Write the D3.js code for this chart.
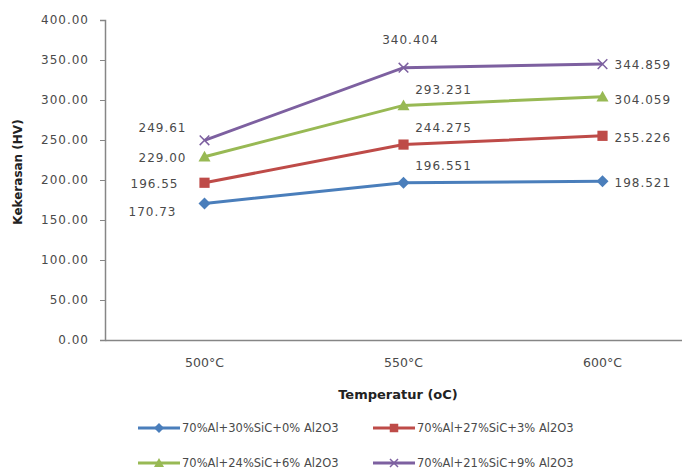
<!DOCTYPE html>
<html><head><meta charset="utf-8">
<script src="https://cdn.jsdelivr.net/npm/d3@7"></script>
<style>
html,body{margin:0;padding:0;background:#fff;}
svg{display:block;}
text{font-family:"DejaVu Sans",sans-serif;}
</style></head>
<body>
<svg id="chart" width="682" height="472"></svg>
<script>
const categories = ["500°C", "550°C", "600°C"];
const seriesNames = ["70%Al+30%SiC+0% Al2O3", "70%Al+27%SiC+3% Al2O3", "70%Al+24%SiC+6% Al2O3", "70%Al+21%SiC+9% Al2O3"];
const s1 = [170.73, 196.551, 198.521];
const s2 = [196.55, 244.275, 255.226];
const s3 = [229.00, 293.231, 304.059];
const s4 = [249.61, 340.404, 344.859];
const labels1 = ["170.73", "196.551", "198.521"];
const labels2 = ["196.55", "244.275", "255.226"];
const labels3 = ["229.00", "293.231", "304.059"];
const labels4 = ["249.61", "340.404", "344.859"];
const yTicks = [0, 50, 100, 150, 200, 250, 300, 350, 400];

const colors = ["#4a7ebb", "#be4b48", "#98b954", "#7d60a0"];
const shapes = ["diamond", "square", "triangle", "x"];
const values = [s1, s2, s3, s4];
const labelTexts = [labels1, labels2, labels3, labels4];
// label offsets (dx, dy, anchor) per series per point
const labelOffsets = [
  [[-52, 13, "middle"], [40, -13, "middle"], [12, 6, "start"]],
  [[-50, 5, "middle"], [40, -13, "middle"], [12, 6, "start"]],
  [[-42, 5, "middle"], [40, -11, "middle"], [12, 7, "start"]],
  [[-42, -8, "middle"], [7, -24, "middle"], [12, 5, "start"]]
];

const svg = d3.select("#chart");
const pLeft = 105, pRight = 702, pTop = 20, pBottom = 340;
const x = d3.scaleBand().domain(categories).range([pLeft, pRight]);
const y = d3.scaleLinear().domain([0, 400]).range([pBottom, pTop]);
const cx = c => x(c) + x.bandwidth() / 2;

// Y axis
const yAxis = svg.append("g").attr("transform", `translate(${pLeft},0)`)
  .call(d3.axisLeft(y).tickValues(yTicks).tickFormat(d3.format(".2f")).tickSize(5).tickPadding(11));
yAxis.select(".domain").attr("stroke", "#868686").attr("stroke-width", 1.5);
yAxis.selectAll(".tick line").attr("stroke", "#868686");
yAxis.selectAll(".tick text").attr("font-size", 12).attr("fill", "#4a4a4a")
  .attr("letter-spacing", 1).attr("font-family", "DejaVu Sans, sans-serif");

// X axis
const xAxis = svg.append("g").attr("transform", `translate(0,${pBottom})`)
  .call(d3.axisBottom(x).tickSize(0).tickPadding(18));
xAxis.select(".domain").attr("stroke", "#868686").attr("stroke-width", 1.5);
xAxis.selectAll(".tick text").attr("font-size", 12.5).attr("fill", "#4a4a4a")
  .attr("font-family", "DejaVu Sans, sans-serif");

// Axis titles
svg.append("text").attr("x", 398).attr("y", 399).attr("text-anchor", "middle")
  .attr("font-weight", "bold").attr("font-size", 13).attr("fill", "#222")
  .text("Temperatur (oC)");
svg.append("text").attr("transform", "translate(22,172) rotate(-90)").attr("text-anchor", "middle")
  .attr("font-weight", "bold").attr("font-size", 12).attr("fill", "#222")
  .text("Kekerasan (HV)");

function drawMarker(g, shape, color, size) {
  const s = size;
  if (shape === "diamond") {
    g.append("path").attr("d", `M0,${-s}L${s},0L0,${s}L${-s},0Z`).attr("fill", color);
  } else if (shape === "square") {
    g.append("rect").attr("x", -s * 0.85).attr("y", -s * 0.85).attr("width", s * 1.7).attr("height", s * 1.7).attr("fill", color);
  } else if (shape === "triangle") {
    g.append("path").attr("d", `M0,${-s}L${s},${s * 0.8}L${-s},${s * 0.8}Z`).attr("fill", color);
  } else {
    g.append("path").attr("d", `M${-s * 0.8},${-s * 0.8}L${s * 0.8},${s * 0.8}M${-s * 0.8},${s * 0.8}L${s * 0.8},${-s * 0.8}`)
      .attr("stroke", color).attr("stroke-width", 1.5).attr("fill", "none");
  }
}

const line = d3.line().x((d, i) => cx(categories[i])).y(d => y(d));

values.forEach((vals, si) => {
  const g = svg.append("g");
  g.append("path").datum(vals).attr("d", line).attr("fill", "none")
    .attr("stroke", colors[si]).attr("stroke-width", 3);
  vals.forEach((v, i) => {
    const m = g.append("g").attr("transform", `translate(${cx(categories[i])},${y(v)})`);
    drawMarker(m, shapes[si], colors[si], 6);
    const off = labelOffsets[si][i];
    g.append("text").attr("x", cx(categories[i]) + off[0]).attr("y", y(v) + off[1])
      .attr("text-anchor", off[2]).attr("font-size", 12).attr("letter-spacing", 1)
      .attr("fill", "#4a4a4a").text(labelTexts[si][i]);
  });
});

// Legend
const legendPos = [[138, 428], [373, 428], [138, 463], [373, 463]];
seriesNames.forEach((name, si) => {
  const [lx, ly] = legendPos[si];
  const g = svg.append("g");
  g.append("line").attr("x1", lx).attr("x2", lx + 42).attr("y1", ly).attr("y2", ly)
    .attr("stroke", colors[si]).attr("stroke-width", 3);
  const m = g.append("g").attr("transform", `translate(${lx + 21},${ly})`);
  drawMarker(m, shapes[si], colors[si], 5);
  g.append("text").attr("x", lx + 44).attr("y", ly + 4).attr("font-size", 11.5)
    .attr("fill", "#4a4a4a").text(name);
});
</script>
</body></html>
